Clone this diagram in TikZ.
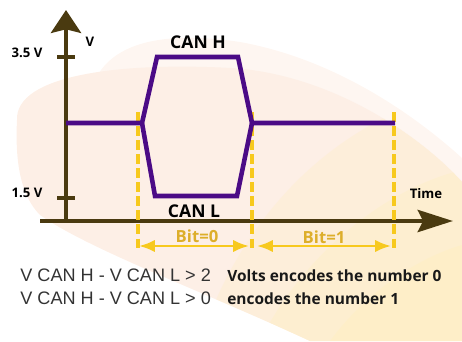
\documentclass[tikz,border=0pt]{standalone}
\usepackage{fontspec}
\setmainfont{Open Sans}
\newfontfamily\plainfont{Liberation Sans}
\usetikzlibrary{arrows.meta}

\definecolor{axisbrown}{HTML}{4A3A10}
\definecolor{canpurple}{HTML}{4B0B86}
\definecolor{bityellow}{HTML}{F7C91E}
\definecolor{bitgold}{HTML}{DDAE2A}
\definecolor{peachA}{HTML}{FEF6F1}
\definecolor{peachB}{HTML}{FDEFE6}
\definecolor{sandC}{HTML}{FFEEC4}

\tikzset{
  axisline/.style={draw=axisbrown, line width=2.8pt},
  signal/.style={draw=canpurple, line width=2.6pt, line join=miter},
  bitmark/.style={draw=bityellow, line width=2.1pt, dash pattern=on 5.5pt off 2.5pt},
  bitspan/.style={draw=bityellow, line width=1.5pt,
    {Latex[length=9pt,width=7pt]}-{Latex[length=9pt,width=7pt]}},
  ticklbl/.style={font=\bfseries\fontsize{7.5}{9}\selectfont, inner sep=0pt},
  canlbl/.style={font=\bfseries\fontsize{10}{12}\selectfont, inner sep=0pt},
  bitlbl/.style={font=\bfseries\fontsize{9.5}{11}\selectfont, text=bitgold, inner sep=0pt},
  rulelbl/.style={font=\plainfont\fontsize{10.3}{12}\selectfont, text=black!80, inner sep=0pt, anchor=base west},
  meanlbl/.style={font=\bfseries\fontsize{8.8}{11}\selectfont, text=black!90, inner sep=0pt, anchor=base west}
}

\begin{document}
\begin{tikzpicture}[x=0.02cm, y=-0.02cm]
  \useasboundingbox (0,0) rectangle (462,341);

  % soft backdrop
  \fill[peachA] (88,125) .. controls (82,40) and (160,30) .. (240,42)
    .. controls (340,60) and (420,120) .. (462,158) -- (462,341) -- (310,341) -- cycle;
  \begin{scope}
    \clip (17,120) .. controls (15,75) and (120,62) .. (231,68)
      .. controls (330,74) and (420,135) .. (462,182) -- (462,341) -- (310,341)
      .. controls (200,290) and (90,250) .. (40,215) .. controls (20,195) and (15,160) .. (17,120) -- cycle;
    \fill[peachB] (0,0) rectangle (462,341);
    \fill[sandC, opacity=.35] (200,341) .. controls (240,220) and (330,120) .. (462,90) -- (462,341) -- cycle;
    \fill[sandC, opacity=.45] (260,341) .. controls (300,260) and (380,190) .. (462,170) -- (462,341) -- cycle;
    \fill[sandC, opacity=.6] (330,341) .. controls (360,300) and (410,260) .. (462,245) -- (462,341) -- cycle;
  \end{scope}

  % axes
  \coordinate (origin) at (66,221);
  \coordinate (vtop) at (66,10);
  \coordinate (tstart) at (40,221);
  \coordinate (tend) at (453,221);
  \draw[axisline, -{Stealth[length=13pt,width=17pt,inset=2pt]}] (origin) -- (vtop);
  \draw[axisline, -{Stealth[length=20pt,width=12.5pt,inset=3pt]}] (tstart) -- (tend);
  \draw[axisline, line width=2pt] (57,57) -- (75,57);
  \draw[axisline, line width=2pt] (57,198) -- (75,198);

  \node[ticklbl] (lblhi) at (27,53) {3.5 V};
  \node[ticklbl] (lbllo) at (27,193) {1.5 V};
  \node[ticklbl] (lblv) at (90,42) {V};
  \node[ticklbl] (lbltime) at (426,194) {Time};

  % bit boundaries
  \coordinate (m0top) at (138,112); \coordinate (m0bot) at (138,249);
  \coordinate (m1top) at (252,112); \coordinate (m1bot) at (252,249);
  \coordinate (m2top) at (394,112); \coordinate (m2bot) at (394,249);
  \draw[bitmark] (m0top) -- (m0bot);
  \draw[bitmark] (m1top) -- (m1bot);
  \draw[bitmark] (m2top) -- (m2bot);

  \coordinate (s0a) at (139,246); \coordinate (s0b) at (249,246);
  \coordinate (s1a) at (257,246); \coordinate (s1b) at (391,246);
  \draw[bitspan] (s0a) -- (s0b);
  \draw[bitspan] (s1a) -- (s1b);
  \node[bitlbl] (bit0) at (197,236) {Bit=0};
  \node[bitlbl] (bit1) at (324,237) {Bit=1};

  % CAN H / CAN L
  \coordinate (idle0) at (66,123);
  \coordinate (split) at (142,123);
  \coordinate (htopL) at (157,57);
  \coordinate (htopR) at (238,57);
  \coordinate (lbotL) at (155,196);
  \coordinate (lbotR) at (237,196);
  \coordinate (merge) at (252,123);
  \coordinate (idle1) at (395,123);
  \draw[signal] (idle0) -- (split) -- (htopL) -- (htopR) -- (merge) -- (idle1);
  \draw[signal] (split) -- (lbotL) -- (lbotR) -- (merge);

  \node[canlbl] (canh) at (198,42) {CAN H};
  \node[canlbl] (canl) at (194,211) {CAN L};

  % encoding rules
  \node[rulelbl] (rule0) at (20,281) {V CAN H - V CAN L > 2};
  \node[meanlbl] (mean0) at (227,281) {Volts encodes the number 0};
  \node[rulelbl] (rule1) at (20,304) {V CAN H - V CAN L > 0};
  \node[meanlbl] (mean1) at (227,304) {encodes the number 1};
\end{tikzpicture}
\end{document}
